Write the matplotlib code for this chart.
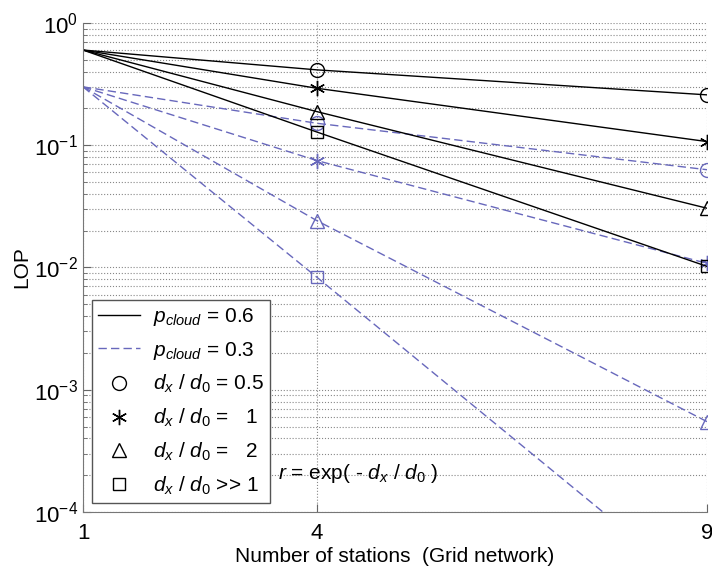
import numpy as np
import matplotlib.pyplot as plt
from matplotlib.lines import Line2D
from matplotlib.ticker import LogLocator, NullFormatter

plt.rcParams['font.family'] = ['Liberation Sans', 'DejaVu Sans']
plt.rcParams['mathtext.fontset'] = 'custom'
plt.rcParams['mathtext.rm'] = 'Liberation Sans'
plt.rcParams['mathtext.it'] = 'Liberation Sans:italic'
plt.rcParams['axes.unicode_minus'] = False

# number of stations
stations = [1, 4, 9]

# LOP, p_cloud = 0.6
p06_half = [0.6, 0.413, 0.258]
p06_one = [0.6, 0.292, 0.107]
p06_two = [0.6, 0.188, 0.0305]
p06_ind = [0.6, 0.128, 0.0102]

# LOP, p_cloud = 0.3
p03_half = [0.3, 0.151, 0.063]
p03_one = [0.3, 0.0748, 0.0108]
p03_two = [0.3, 0.0241, 0.000548]
p03_ind = [0.3, 0.0083, 0.00002]

blue = '#6868bc'
asterisk = (6, 2, 0)
markers = ['o', asterisk, '^', 's']
msizes = [10, 11, 10, 9]

fig = plt.figure(figsize=(7.12, 5.73), dpi=100)
ax = fig.add_axes([0.1166, 0.1065, 0.8764, 0.8535])

for ys, m, s in zip([p03_half, p03_one, p03_two, p03_ind], markers, msizes):
    ax.plot(stations, ys, '--', color=blue, lw=1.0, dashes=(6, 3), markevery=[1, 2],
            marker=m, ms=s, mfc='none', mec=blue, mew=1.0)
for ys, m, s in zip([p06_half, p06_one, p06_two, p06_ind], markers, msizes):
    ax.plot(stations, ys, '-', color='k', lw=1.0, markevery=[1, 2],
            marker=m, ms=s, mfc='none', mec='k', mew=1.0)

ax.set_yscale('log')
ax.set_xlim(1, 9)
ax.set_ylim(1e-4, 1)
ax.set_xticks(stations)
ax.yaxis.set_major_locator(LogLocator(base=10, numticks=10))
ax.yaxis.set_minor_locator(LogLocator(base=10, subs=np.arange(2, 10), numticks=20))
ax.yaxis.set_minor_formatter(NullFormatter())
ax.tick_params(which='both', direction='in', labelsize=16, color='#666666')
ax.tick_params(which='major', length=6)
ax.tick_params(which='minor', length=3)
ax.tick_params(axis='x', pad=8)

ax.grid(True, which='both', axis='y', ls=':', color='#888888', lw=0.8)
ax.grid(True, which='major', axis='x', ls=':', color='#888888', lw=0.8)
ax.spines['top'].set_visible(False)
ax.spines['right'].set_visible(False)
ax.spines['left'].set_color('#777777')
ax.spines['bottom'].set_color('#777777')

ax.set_xlabel('Number of stations  (Grid network)', fontsize=15, labelpad=2)
ax.set_ylabel('LOP', fontsize=15, labelpad=2)

ax.text(3.5, 2.05e-4, r'$r$ = exp( - $d_x$ / $d_0$ )', fontsize=15, va='center')

handles = [
    Line2D([], [], color='k', lw=1.0),
    Line2D([], [], color=blue, ls='--', lw=1.0, dashes=(6, 3)),
    Line2D([], [], ls='none', marker='o', ms=10, mfc='none', mec='k'),
    Line2D([], [], ls='none', marker=asterisk, ms=11, mfc='none', mec='k'),
    Line2D([], [], ls='none', marker='^', ms=10, mfc='none', mec='k'),
    Line2D([], [], ls='none', marker='s', ms=9, mfc='none', mec='k'),
]
labels = [
    r'$p_{cloud}$ = 0.6',
    r'$p_{cloud}$ = 0.3',
    r'$d_x$ / $d_0$ = 0.5',
    r'$d_x$ / $d_0$ =   1',
    r'$d_x$ / $d_0$ =   2',
    r'$d_x$ / $d_0$ >> 1',
]
leg = ax.legend(handles, labels, loc='lower left', bbox_to_anchor=(0.008, 0.01),
                fontsize=15, fancybox=False, framealpha=1, edgecolor='#555555',
                handlelength=2.0, borderpad=0.3, labelspacing=0.55, handletextpad=0.6,
                borderaxespad=0.2)
leg.get_frame().set_linewidth(1.0)

fig.savefig('out.png', dpi=100)
